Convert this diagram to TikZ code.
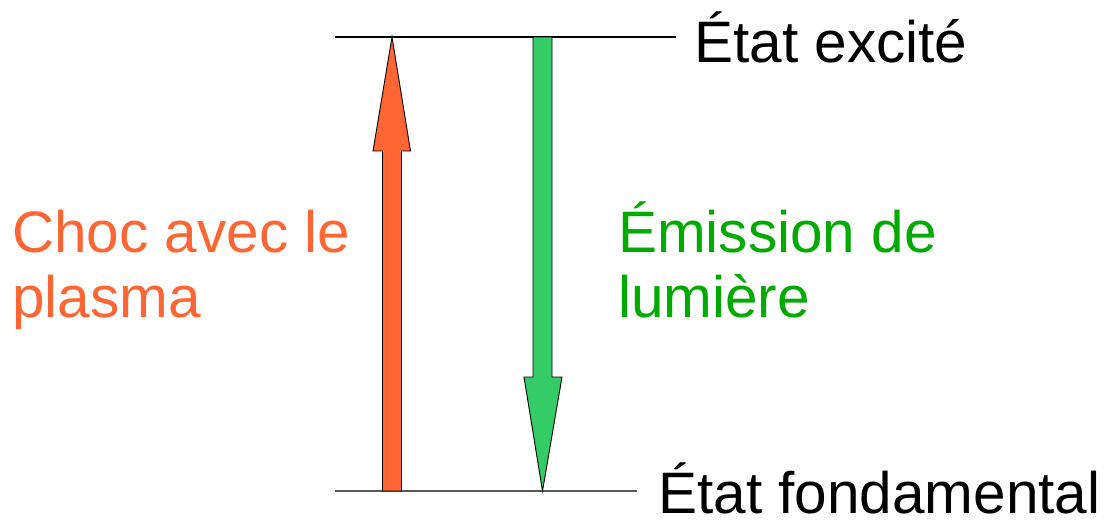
\documentclass[tikz,border=0pt]{standalone}
\usepackage{fontspec}
\setmainfont{Liberation Sans}
\usepackage{tikz}
\usetikzlibrary{positioning}
\usepackage{xcolor}
\definecolor{chocorange}{HTML}{FF6633}
\definecolor{emifill}{HTML}{33CC66}
\definecolor{emitext}{HTML}{00AA00}

\begin{document}
\begin{tikzpicture}[
  x=1pt, y=-1pt,
  font=\fontsize{58.5}{65}\selectfont,
  level/.style={line width=1.1pt},
  fatarrow/.style={draw=black, line width=0.9pt, line join=miter},
  label/.style={inner sep=0pt, anchor=base west, align=left},
]
  \useasboundingbox (0,0) rectangle (1104,520);

  % Energy levels
  \coordinate (exc-l) at (335,37);
  \coordinate (exc-r) at (676,37);
  \coordinate (fond-l) at (335,491);
  \coordinate (fond-r) at (637,491);
  \draw[level, black] (exc-l) -- (exc-r);
  \draw[level, black!65] (fond-l) -- (fond-r);

  % Level labels
  \node[label] (exc) at (694,62) {État excité};
  \node[label] (fond) at (658,513) {État fondamental};

  % Upward arrow (collision)
  \draw[fatarrow, fill=chocorange] (382.5,491) -- (382.5,151) -- (373,151) -- (392,37)
    -- (410.5,151) -- (401.5,151) -- (401.5,491) -- cycle;

  % Downward arrow (emission)
  \draw[fatarrow, fill=emifill] (533,37) -- (533,377) -- (524,377) -- (542.5,491)
    -- (562,377) -- (552,377) -- (552,37) -- cycle;

  % Transition labels (anchored on the last line)
  \node[label, chocorange] (choc) at (12,317) {Choc avec le\\plasma};
  \node[label, emitext] (emi) at (618,317) {Émission de\\lumière};
\end{tikzpicture}
\end{document}
